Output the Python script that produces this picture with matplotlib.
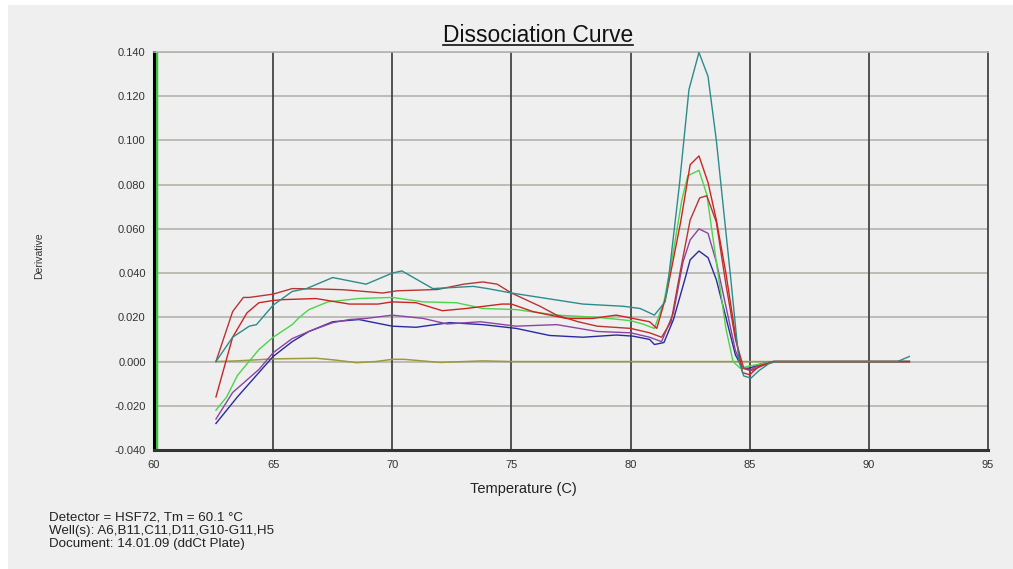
import matplotlib
matplotlib.use("Agg")
import matplotlib.pyplot as plt
from matplotlib.patches import Rectangle
from matplotlib.lines import Line2D

plt.rcParams['font.family'] = ['Liberation Sans', 'DejaVu Sans']

# curve data (temperature C, derivative)
teal_t = [62.6, 63.3, 64.0, 64.3, 65.0, 65.8, 66.4, 67.5, 68.9, 70.0, 70.4, 71.7, 73.4, 74.0,
          75.0, 76.2, 78.0, 79.7, 80.4, 81.0, 81.45, 81.6, 82.05, 82.45, 82.87, 83.25, 83.6,
          84.2, 84.55, 84.75, 85.05, 85.4, 85.8, 86.1, 91.2, 91.7]
teal_v = [0.0, 0.011, 0.016, 0.0167, 0.0255, 0.0317, 0.033, 0.038, 0.035, 0.040, 0.041, 0.033,
          0.034, 0.033, 0.031, 0.029, 0.026, 0.025, 0.024, 0.021, 0.027, 0.038, 0.080, 0.123,
          0.1398, 0.129, 0.100, 0.038, 0.0, -0.0065, -0.0075, -0.004, -0.001, 0.0, 0.0, 0.0023]

redhi_t = [62.6, 63.3, 63.9, 64.4, 65.0, 65.4, 66.8, 68.2, 69.4, 70.0, 71.0, 72.1, 73.1, 74.6,
           75.0, 75.9, 77.3, 78.4, 79.4, 80.1, 80.8, 81.1, 81.5, 82.1, 82.5, 82.87, 83.25,
           83.6, 84.0, 84.4, 84.7, 85.0, 85.4, 86.0, 91.7]
redhi_v = [-0.016, 0.011, 0.022, 0.0266, 0.0276, 0.028, 0.0285, 0.026, 0.026, 0.027, 0.0266,
           0.023, 0.024, 0.026, 0.026, 0.0226, 0.0195, 0.0195, 0.021, 0.0195, 0.018, 0.015,
           0.030, 0.063, 0.089, 0.093, 0.081, 0.064, 0.040, 0.012, -0.005, -0.006, -0.002,
           0.0, 0.0]

redlo_t = [62.6, 63.3, 63.75, 64.0, 65.0, 65.8, 67.0, 67.9, 68.5, 69.6, 70.2, 71.9, 73.0,
           73.8, 74.4, 75.0, 76.2, 76.9, 77.8, 78.6, 80.0, 80.8, 81.3, 81.7, 82.1, 82.5,
           82.9, 83.2, 83.6, 84.0, 84.4, 84.75, 85.1, 85.5, 86.0, 91.7]
redlo_v = [0.0, 0.0226, 0.029, 0.029, 0.0305, 0.033, 0.0328, 0.0325, 0.032, 0.031, 0.032,
           0.0326, 0.035, 0.036, 0.035, 0.031, 0.025, 0.021, 0.018, 0.016, 0.015, 0.013,
           0.011, 0.018, 0.0416, 0.064, 0.074, 0.075, 0.063, 0.035, 0.010, -0.003, -0.004,
           -0.002, 0.0, 0.0]

green_t = [62.6, 63.05, 63.5, 64.4, 65.0, 65.8, 66.1, 66.5, 67.3, 68.6, 70.0, 71.3, 72.7,
           73.8, 75.2, 76.9, 78.6, 80.0, 80.5, 81.0, 81.4, 81.8, 82.15, 82.4, 82.87, 83.2,
           83.6, 84.0, 84.3, 84.6, 85.0, 85.5, 86.0, 91.7]
green_v = [-0.022, -0.016, -0.0063, 0.0054, 0.011, 0.0167, 0.020, 0.0235, 0.027, 0.0285,
           0.029, 0.027, 0.0266, 0.024, 0.0235, 0.021, 0.020, 0.0185, 0.017, 0.015, 0.027,
           0.050, 0.073, 0.084, 0.0865, 0.0755, 0.045, 0.015, 0.0, -0.003, -0.002, -0.001,
           0.0, 0.0]

purple_t = [62.6, 63.3, 64.4, 65.0, 65.8, 66.5, 67.5, 68.2, 68.9, 70.0, 71.3, 72.3, 73.7,
            75.2, 76.9, 78.6, 80.0, 80.8, 81.3, 81.8, 82.2, 82.5, 82.87, 83.25, 83.6, 84.0,
            84.4, 84.7, 85.0, 85.5, 86.0, 91.7]
purple_v = [-0.026, -0.014, -0.0036, 0.004, 0.0104, 0.0136, 0.0176, 0.019, 0.0195, 0.021,
            0.0195, 0.017, 0.018, 0.016, 0.0167, 0.0136, 0.013, 0.011, 0.009, 0.022, 0.045,
            0.055, 0.060, 0.058, 0.045, 0.025, 0.005, -0.003, -0.004, -0.001, 0.0, 0.0]

blue_t = [62.6, 63.5, 64.4, 65.0, 65.8, 66.5, 67.5, 68.6, 70.0, 71.0, 72.4, 73.8, 75.2,
          76.6, 78.0, 79.4, 80.1, 80.8, 81.0, 81.4, 81.8, 82.3, 82.5, 82.87, 83.25, 83.6,
          84.0, 84.4, 84.7, 85.0, 85.5, 86.0, 91.7]
blue_v = [-0.028, -0.016, -0.005, 0.0023, 0.009, 0.0136, 0.018, 0.019, 0.016, 0.0155,
          0.0176, 0.0167, 0.015, 0.0118, 0.011, 0.012, 0.0115, 0.010, 0.0077, 0.0086, 0.019,
          0.038, 0.046, 0.050, 0.047, 0.037, 0.020, 0.003, -0.003, -0.003, -0.001, 0.0, 0.0]

olive_t = [62.6, 63.5, 65.0, 66.8, 67.5, 68.5, 69.3, 70.0, 70.5, 72.0, 73.8, 75.0, 80.0,
           84.3, 91.7]
olive_v = [0.0, 0.0003, 0.0012, 0.0015, 0.0008, -0.0005, 0.0, 0.001, 0.001, -0.0004, 0.0003,
           0.0, 0.0, 0.0, 0.0]

tm = 60.1
x_ticks = [60, 65, 70, 75, 80, 85, 90, 95]
y_ticks = [-0.040, -0.020, 0.000, 0.020, 0.040, 0.060, 0.080, 0.100, 0.120, 0.140]
info_lines = ["Detector = HSF72, Tm = 60.1 \u00b0C",
              "Well(s): A6,B11,C11,D11,G10-G11,H5",
              "Document: 14.01.09 (ddCt Plate)"]

W, H = 1013, 569
fig = plt.figure(figsize=(W / 100, H / 100), dpi=100, facecolor='white')
fig.patches.append(Rectangle((8 / W, 0), 1 - 8 / W, 1 - 5 / H, transform=fig.transFigure,
                             facecolor='#efefef', edgecolor='none', zorder=-10))

ax = fig.add_axes([154 / W, 1 - 450 / H, (988 - 154) / W, (450 - 52) / H])
ax.set_facecolor('#efefef')

# grid: light horizontal, dark vertical
for y in y_ticks[1:]:
    ax.axhline(y, color='#b4b4ac', lw=1.2, zorder=1)
for x in x_ticks[1:-1]:
    ax.axvline(x, color='#454545', lw=1.3, zorder=1)

ax.axvline(tm, color='#3ec83e', lw=2.5, zorder=2)

ax.plot(olive_t, olive_v, color='#9c9a3c', lw=1.1, zorder=3)
ax.plot(blue_t, blue_v, color='#2a2aa0', lw=1.0, zorder=3)
ax.plot(purple_t, purple_v, color='#8c44a4', lw=1.0, zorder=3)
ax.plot(green_t, green_v, color='#4cd44c', lw=1.0, zorder=3)
ax.plot(redlo_t, redlo_v, color='#b83434', lw=1.0, zorder=3)
ax.plot(redhi_t, redhi_v, color='#cc2424', lw=1.0, zorder=3)
ax.plot(teal_t, teal_v, color='#2c8c8c', lw=1.0, zorder=3)

ax.set_xlim(60, 95)
ax.set_ylim(-0.040, 0.140)
ax.set_xticks(x_ticks)
ax.set_yticks(y_ticks)
ax.set_xticklabels([str(x) for x in x_ticks])
ax.set_yticklabels(['%.3f' % y for y in y_ticks])
ax.tick_params(length=0, labelsize=8, labelcolor='#333333', pad=6)
ax.tick_params(axis='x', pad=7)

ax.spines['left'].set_color('black')
ax.spines['left'].set_linewidth(2.2)
ax.spines['bottom'].set_color('#333333')
ax.spines['bottom'].set_linewidth(2.2)
ax.spines['right'].set_color('#454545')
ax.spines['right'].set_linewidth(1.3)
ax.spines['top'].set_color('#b4b4ac')
ax.spines['top'].set_linewidth(1.2)

fig.text(39 / W, 1 - 256 / H, 'Derivative', rotation=90, ha='center', va='center',
         fontsize=7.5, color='#333333')
fig.text(523 / W, 1 - 489 / H, 'Temperature (C)', ha='center', va='center',
         fontsize=10.5, color='#222222')

for i, line in enumerate(info_lines):
    fig.text(49 / W, 1 - (518 + 13 * i) / H, line, ha='left', va='center',
             fontsize=9.6, color='#222222')

# underlined title
title = fig.text(538 / W, 1 - 42 / H, 'Dissociation Curve', ha='center', va='baseline',
                 fontsize=16.4, color='#111111')
fig.canvas.draw()
bb = title.get_window_extent()
uy = 1 - 45 / H
fig.add_artist(Line2D([bb.x0 / W, bb.x1 / W], [uy, uy], transform=fig.transFigure,
                      color='#111111', lw=1.2))

fig.savefig('out.png', dpi=100, facecolor=fig.get_facecolor())
